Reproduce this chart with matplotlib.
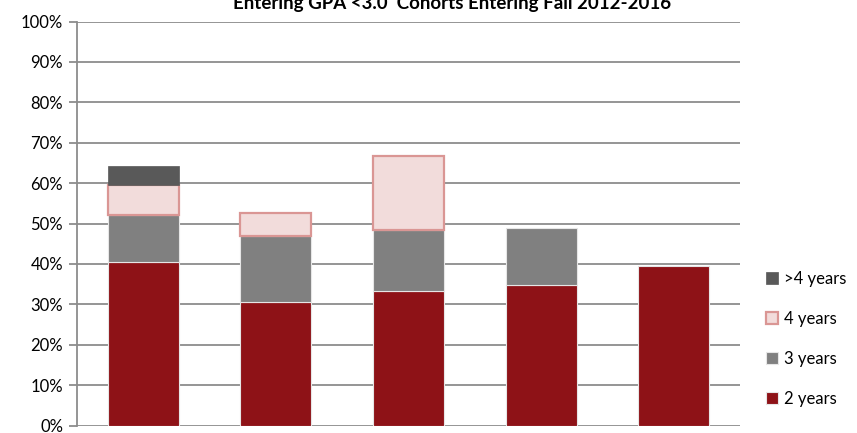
import matplotlib
matplotlib.use("Agg")
import matplotlib.pyplot as plt
from matplotlib.ticker import PercentFormatter, MultipleLocator
import numpy as np

plt.rcParams['font.family'] = ['Lato', 'DejaVu Sans']

categories = ["2012", "2013", "2014", "2015", "2016"]
two_years = [40.4, 30.5, 33.3, 34.8, 39.4]
three_years = [11.8, 16.5, 15.2, 14.0, 0.0]
four_years = [7.3, 5.7, 18.2, 0.0, 0.0]
more_years = [4.7, 0.0, 0.0, 0.0, 0.0]
title = "Entering GPA <3.0  Cohorts Entering Fall 2012-2016"

fig = plt.figure(figsize=(8.57, 4.33), dpi=100)
ax = fig.add_axes([77/857, 1-425.5/433, (740-77)/857, (425.5-21.5)/433])

x = np.arange(len(categories))
w = 0.535
grid_c = '#8C8C8C'

series = [
    (two_years, '2 years', '#8E1217', '#E6E6E6', 0.8),
    (three_years, '3 years', '#808080', '#E6E6E6', 0.8),
    (four_years, '4 years', '#F2DCDB', '#DA9694', 1.6),
    (more_years, '>4 years', '#595959', '#595959', 0.5),
]
bottom = np.zeros(len(categories))
for vals, lab, fc, ec, lw in series:
    v = np.array(vals, dtype=float)
    m = v > 0
    ax.bar(x[m], v[m], w, bottom=bottom[m], color=fc, edgecolor=ec,
           linewidth=lw, label=lab, zorder=3)
    bottom = bottom + v

ax.set_xlim(-0.5, len(categories) - 0.5)
ax.set_ylim(0, 100)
ax.yaxis.set_major_locator(MultipleLocator(10))
ax.yaxis.set_major_formatter(PercentFormatter(decimals=0))
ax.grid(axis='y', color=grid_c, linewidth=1.3, zorder=0)
ax.set_xticks([])
for s in ['top', 'right', 'bottom']:
    ax.spines[s].set_visible(False)
ax.spines['left'].set_color(grid_c)
ax.spines['left'].set_linewidth(1.3)
ax.tick_params(axis='y', length=6, width=1.3, color=grid_c, labelsize=12, pad=4, labelcolor='#000000')

handles, labels = ax.get_legend_handles_labels()
leg = fig.legend(handles[::-1], labels[::-1], loc='center left',
                 bbox_to_anchor=(758/857, 1-339/433), frameon=False,
                 fontsize=12, handlelength=0.72, handleheight=0.72,
                 handletextpad=0.35, labelspacing=1.45, borderpad=0)

fig.text(452/857, 1-9/433, title, ha='center', va='baseline',
         fontsize=13.5, fontweight='bold')

fig.savefig('out.png', dpi=100)
